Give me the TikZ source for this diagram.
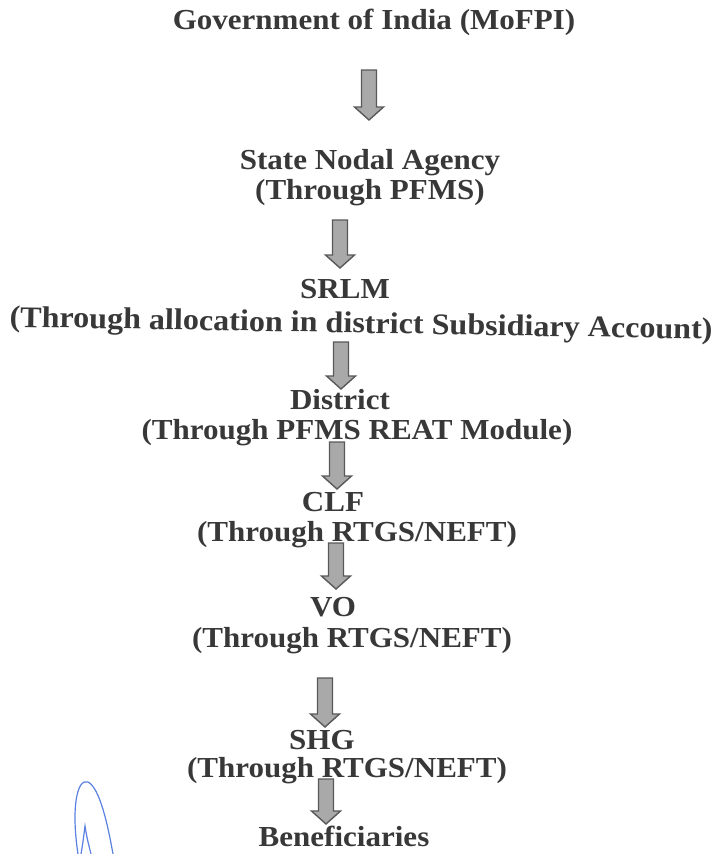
\documentclass[tikz,border=0pt]{standalone}
\usepackage{fontspec}
\setmainfont{Liberation Serif}[FakeStretch=1.07]
\usepackage{tikz}
\usetikzlibrary{calc}

\definecolor{txtgray}{HTML}{383838}
\definecolor{arrgray}{HTML}{A9A9A9}
\definecolor{arredge}{HTML}{595959}
\definecolor{inkblue}{HTML}{5A80E0}

% block arrow from #1 (top of shaft) to #2 (tip)
\newcommand{\blockarrow}[2]{%
  \filldraw[barrow] ($(#1)+(-7.5,0)$) -- ($(#2)+(-7.5,-13)$) -- ($(#2)+(-14.5,-13)$)
    -- (#2) -- ($(#2)+(14.5,-13)$) -- ($(#2)+(7.5,-13)$) -- ($(#1)+(7.5,0)$) -- cycle;}

\begin{document}
\begin{tikzpicture}[
		x=1pt, y=-1pt,
		label/.style={font=\fontsize{29}{30}\selectfont\bfseries, text=txtgray, inner sep=0pt, anchor=base},
		barrow/.style={fill=arrgray, draw=arredge, line width=1.4pt, line join=miter},
		sig/.style={draw=inkblue, line width=1.2pt, line cap=round}
	]
	\fill[white] (0,0) rectangle (720,854);
	\useasboundingbox (0,0) rectangle (720,854);

	\node[label] (gov) at (374,29) {Government of India (MoFPI)};
	\node[label] (sna) at (370,169) {State Nodal Agency};
	\node[label] (snavia) at (370,199) {(Through PFMS)};
	\node[label] (srlm) at (345,298) {SRLM};
	\node[label, rotate=-1.0, font=\fontsize{30}{31}\selectfont\bfseries] (srlmvia) at (361,333) {(Through allocation in district Subsidiary Account)};
	\node[label] (dist) at (340,409) {District};
	\node[label] (distvia) at (357,439) {(Through PFMS REAT Module)};
	\node[label] (clf) at (333,511) {CLF};
	\node[label] (clfvia) at (357,541) {(Through RTGS/NEFT)};
	\node[label] (vo) at (333,616) {VO};
	\node[label] (vovia) at (352,647) {(Through RTGS/NEFT)};
	\node[label] (shg) at (322,749) {SHG};
	\node[label] (shgvia) at (347,777) {(Through RTGS/NEFT)};
	\node[label] (ben) at (344,846) {Beneficiaries};

	\coordinate (a1s) at (369,70);  \coordinate (a1e) at (369,120);
	\coordinate (a2s) at (340,220); \coordinate (a2e) at (340,268);
	\coordinate (a3s) at (341,342); \coordinate (a3e) at (341,389);
	\coordinate (a4s) at (337,442); \coordinate (a4e) at (337,489);
	\coordinate (a5s) at (336,543); \coordinate (a5e) at (336,589);
	\coordinate (a6s) at (325,678); \coordinate (a6e) at (325,727);
	\coordinate (a7s) at (326,779); \coordinate (a7e) at (326,824);
	\foreach \i in {1,...,7}
		\blockarrow{a\i s}{a\i e};

	\draw[sig] (78,854) .. controls (71,808) and (77,778) .. (88,782)
		.. controls (100,788) and (108,826) .. (113,854);
	\draw[sig] (81,854) .. controls (83,842) .. (85,826) .. controls (87,838) .. (91,854);
\end{tikzpicture}
\end{document}
